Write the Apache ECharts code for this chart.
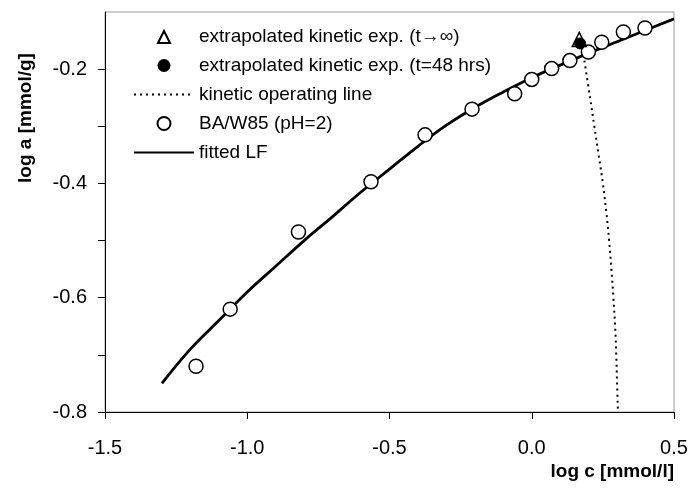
<!DOCTYPE html>
<html><head><meta charset="utf-8">
<script src="https://cdn.jsdelivr.net/npm/echarts@6/dist/echarts.min.js"></script>
<style>html,body{margin:0;padding:0;background:#fff}#c{width:694px;height:495px}</style>
</head><body><div id="c"></div>
<script>
var measured = [[-1.18,-0.72],[-1.06,-0.62],[-0.82,-0.485],[-0.565,-0.397],[-0.375,-0.315],[-0.21,-0.27],[-0.06,-0.243],[0.0,-0.218],[0.07,-0.199],[0.134,-0.185],[0.199,-0.170],[0.246,-0.153],[0.322,-0.135],[0.398,-0.128]];
var extrapInf = [[0.167,-0.148]];
var extrap48 = [[0.170,-0.155]];
var operating = [[0.185,-0.185],[0.205,-0.25],[0.22,-0.30],[0.235,-0.35],[0.25,-0.40],[0.262,-0.45],[0.272,-0.50],[0.28,-0.55],[0.287,-0.60],[0.293,-0.65],[0.297,-0.70],[0.30,-0.75],[0.303,-0.80]];
var fitted = [[-1.3,-0.75],[-1.2,-0.69],[-1.1,-0.64],[-1.0,-0.59],[-0.9,-0.545],[-0.8,-0.50],[-0.7,-0.458],[-0.6,-0.415],[-0.5,-0.375],[-0.4,-0.335],[-0.3,-0.298],[-0.2,-0.267],[-0.1,-0.24],[0.0,-0.215],[0.1,-0.193],[0.2,-0.172],[0.3,-0.152],[0.4,-0.132],[0.5,-0.112]];
var xTicks = [-1.5,-1.0,-0.5,0.0,0.5];
var yTickLabels = [-0.8,-0.6,-0.4,-0.2];
var names = ['extrapolated kinetic exp. (t\u2192\u221e)','extrapolated kinetic exp. (t=48 hrs)','kinetic operating line','BA/W85 (pH=2)','fitted LF'];
var xTitle = 'log c [mmol/l]';
var yTitle = 'log a [mmol/g]';

var font = 'Liberation Sans, Arial, sans-serif';
var chart = echarts.init(document.getElementById('c'));
chart.setOption({
  animation:false,
  textStyle:{fontFamily:font},
  grid:{left:105,right:20,top:12,bottom:83,show:true,borderColor:'#9a9a9a',borderWidth:1},
  legend:{orient:'vertical',left:133,top:27,padding:0,itemWidth:60,itemHeight:13,itemGap:10,symbolKeepAspect:true,
    data:[
      {name:names[0],icon:'path://M0,0 M60,13 M24,13 L30,1 L36,13 Z'},
      {name:names[1]},
      {name:names[2],itemStyle:{opacity:0}},
      {name:names[3]},
      {name:names[4],itemStyle:{opacity:0}}
    ],
    textStyle:{fontSize:19,color:'#000',fontFamily:font},selectedMode:false},
  graphic:[
    {type:'text',x:26,y:118,rotation:Math.PI/2,style:{text:yTitle,font:'bold 19px '+font,fill:'#000',textAlign:'center',textVerticalAlign:'middle'}}
  ],
  xAxis:{type:'value',min:-1.5,max:0.5,interval:0.5,
    name:xTitle,nameLocation:'end',nameGap:0,
    nameTextStyle:{fontSize:19,fontWeight:'bold',color:'#000',align:'right',verticalAlign:'top',padding:[50,0,0,0]},
    axisLine:{onZero:false,lineStyle:{color:'#000',width:1}},
    axisTick:{show:true,inside:false,length:7,lineStyle:{color:'#000'}},
    axisLabel:{color:'#000',fontSize:20,margin:26,formatter:function(v){return xTicks.indexOf(+v.toFixed(1))>=0? v.toFixed(1):'';}},
    splitLine:{show:false}},
  yAxis:{type:'value',min:-0.8,max:-0.1,interval:0.1,
    axisLine:{show:true,onZero:false,lineStyle:{color:'#000',width:1}},
    axisTick:{show:true,inside:false,length:7,lineStyle:{color:'#000'}},
    axisLabel:{color:'#000',fontSize:20,margin:18,showMaxLabel:false,formatter:function(v){var r=+v.toFixed(1);return yTickLabels.indexOf(r)>=0? r.toFixed(1):'';}},
    splitLine:{show:false}},
  series:[
    {name:names[4],type:'line',data:fitted,smooth:0.4,symbol:'none',z:2,lineStyle:{color:'#000',width:2.8},itemStyle:{color:'#000'}},
    {name:names[2],type:'line',data:operating,smooth:0.4,symbol:'none',z:2,lineStyle:{color:'#000',width:2,type:[2,4]},itemStyle:{color:'#000'}},
    {name:names[3],type:'scatter',data:measured,symbol:'circle',symbolSize:14,z:3,itemStyle:{color:'#fff',borderColor:'#000',borderWidth:1.5,opacity:1}},
    {name:names[0],type:'scatter',data:extrapInf,symbol:'triangle',symbolSize:14,symbolKeepAspect:true,z:4,itemStyle:{color:'#fff',borderColor:'#000',borderWidth:1.5,opacity:1}},
    {name:names[1],type:'scatter',data:extrap48,symbol:'circle',symbolSize:11,z:5,itemStyle:{color:'#000',borderColor:'#000',opacity:1}}
  ]
});
</script></body></html>
